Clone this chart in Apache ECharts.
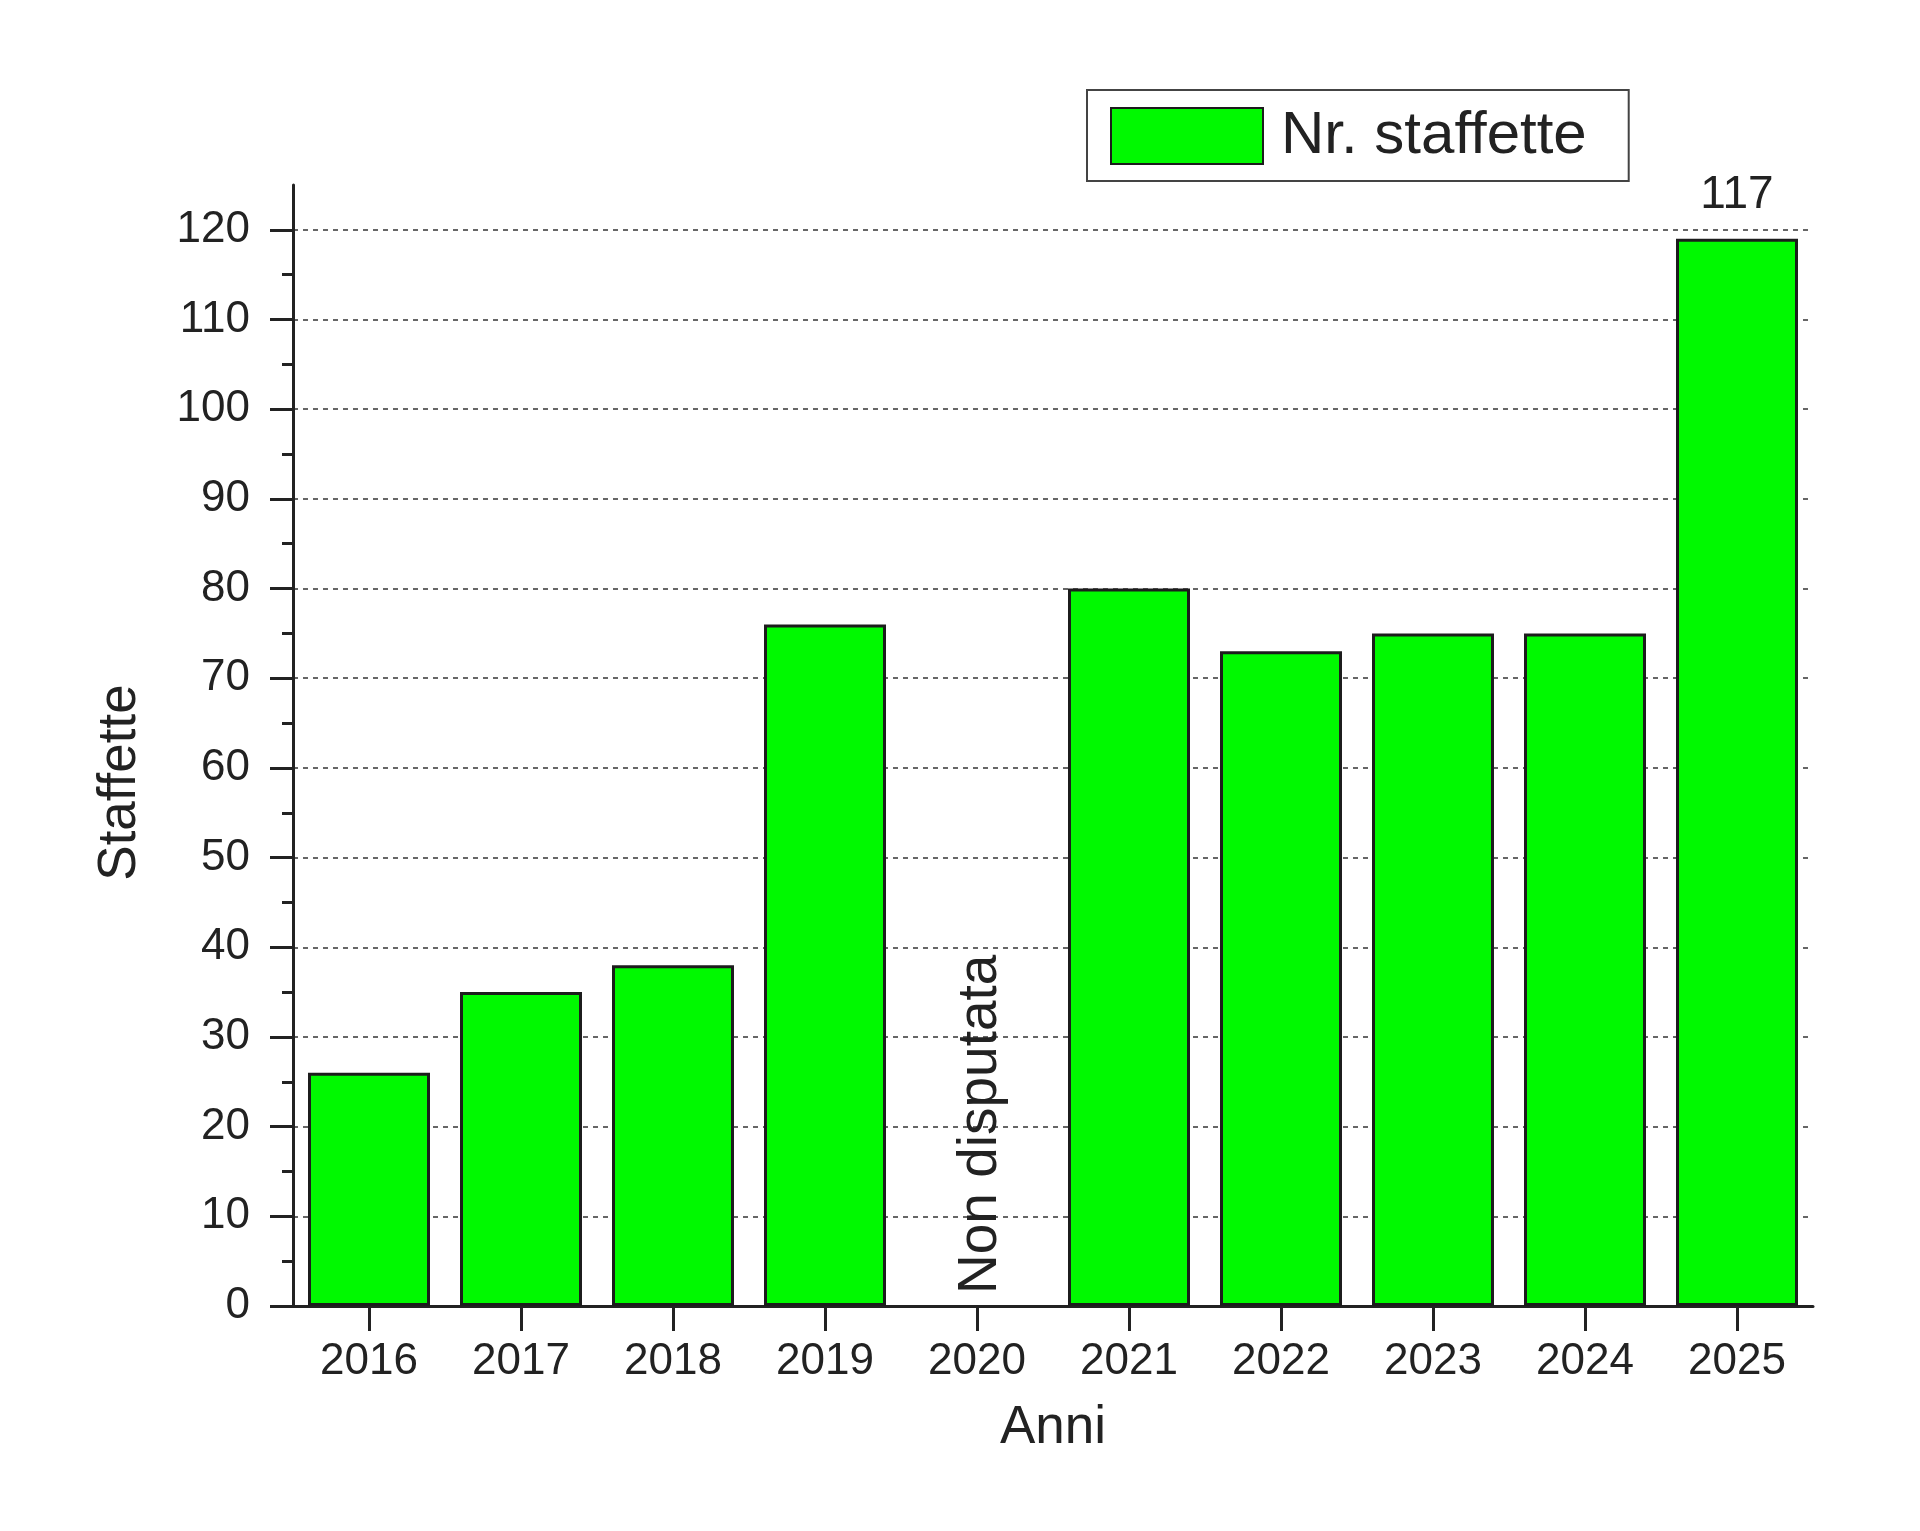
<!DOCTYPE html>
<html>
<head>
<meta charset="utf-8">
<script src="https://cdn.jsdelivr.net/npm/echarts@6.0.0/dist/echarts.min.js"></script>
<style>
  html, body { margin: 0; padding: 0; background: #fff; }
  #chart { width: 1920px; height: 1531px; }
</style>
</head>
<body>
<div id="chart"></div>
<script>
  // Anni (categorie)
  const years = ['2016', '2017', '2018', '2019', '2020', '2021', '2022', '2023', '2024', '2025'];
  // Nr. staffette per anno (2020 non disputata)
  const staffette = [26, 35, 38, 76, 0, 80, 73, 75, 75, 119];
  // note scritte sopra / dentro le barre
  const barNotes = ['', '', '', '', 'Non disputata', '', '', '', '', '117'];
  // tacche dell'asse y
  const yTicks = [0, 10, 20, 30, 40, 50, 60, 70, 80, 90, 100, 110, 120];

  const FONT = "'Liberation Sans', Arial, sans-serif";
  const INK = '#222';
  const GREEN = '#00f900';

  const seriesData = staffette.map((v, i) => {
    const note = barNotes[i];
    const item = { value: v };
    if (note && v === 0) {
      item.itemStyle = { borderWidth: 0 };
      item.label = {
        show: true, formatter: note, position: 'insideBottom', distance: 12,
        rotate: 90, align: 'left', verticalAlign: 'middle', offset: [0, 4],
        fontSize: 55, color: INK, fontFamily: FONT
      };
    } else if (note) {
      item.label = {
        show: true, formatter: note, position: 'top', distance: 20,
        fontSize: 46, color: INK, fontFamily: FONT
      };
    }
    return item;
  });

  const chart = echarts.init(document.getElementById('chart'), null, { renderer: 'canvas' });
  chart.setOption({
    backgroundColor: '#fff',
    animation: false,
    textStyle: { fontFamily: FONT },
    grid: { left: 293, right: 107, top: 185, bottom: 225 },
    legend: {
      left: 1087,
      top: 90,
      icon: 'rect',
      itemWidth: 152,
      itemHeight: 56,
      padding: [16, 42, 15, 23],
      borderColor: '#444',
      borderWidth: 2,
      textStyle: { fontSize: 60, color: INK, fontFamily: FONT, padding: [0, 0, 0, 13] },
      data: ['Nr. staffette']
    },
    xAxis: {
      type: 'category',
      data: years,
      name: 'Anni',
      nameLocation: 'middle',
      nameGap: 96,
      nameTextStyle: { fontSize: 53, color: INK, fontFamily: FONT },
      axisLine: { lineStyle: { color: INK, width: 3 } },
      axisTick: { show: true, alignWithLabel: true, length: 25, lineStyle: { color: INK, width: 3 } },
      axisLabel: { fontSize: 44, color: INK, margin: 34, fontFamily: FONT },
      splitLine: { show: false }
    },
    yAxis: {
      type: 'value',
      min: 0,
      max: 125,
      interval: 10,
      name: 'Staffette',
      nameLocation: 'middle',
      nameGap: 146,
      nameRotate: 90,
      nameTextStyle: { fontSize: 53, color: INK, fontFamily: FONT, padding: [0, 74, 0, 0] },
      axisLine: { show: true, lineStyle: { color: INK, width: 3 } },
      axisTick: { show: true, length: 23, customValues: yTicks, lineStyle: { color: INK, width: 3 } },
      minorTick: { show: true, splitNumber: 2, length: 11, lineStyle: { color: INK, width: 3 } },
      axisLabel: { fontSize: 44, color: INK, margin: 43, customValues: yTicks, fontFamily: FONT },
      splitLine: { show: true, showMinLine: false, lineStyle: { color: '#666', width: 2, type: [5, 5] } }
    },
    series: [{
      name: 'Nr. staffette',
      type: 'bar',
      barWidth: 122,
      data: seriesData,
      itemStyle: { color: GREEN, borderColor: '#1c1c1c', borderWidth: 3 }
    }]
  });
</script>
</body>
</html>
